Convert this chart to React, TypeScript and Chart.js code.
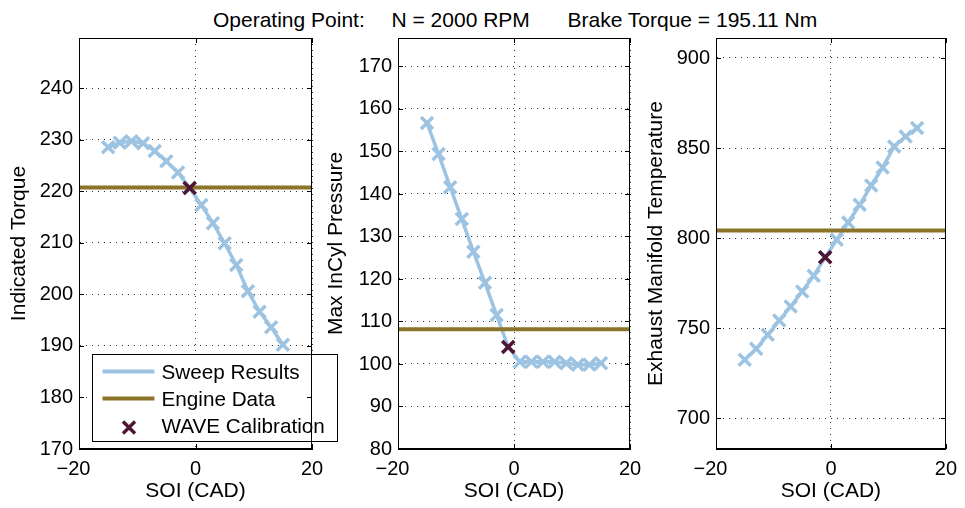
import React, { useEffect, useRef } from 'react';
import { Chart, registerables } from 'chart.js';

Chart.register(...registerables);
Chart.defaults.font.family = "'Liberation Sans', Arial, sans-serif";

// ---------- data ----------
const soi = [-15, -13, -11, -9, -7, -5, -3, -1, 1, 3, 5, 7, 9, 11, 13, 15];
const indicatedTorque = [228.5, 229.4, 229.7, 229.3, 227.8, 225.8, 223.6, 220.6, 217.3, 213.8, 209.9, 205.7, 200.6, 196.6, 193.6, 190.2];
const maxInCylPressure = [156.7, 149.4, 141.6, 134.1, 126.4, 119.1, 111.5, 104.0, 100.5, 100.5, 100.5, 100.5, 100.2, 99.8, 99.8, 100.2];
const exhaustManifoldTemp = [732.4, 738.5, 746.3, 754.2, 762.0, 770.4, 779.1, 789.3, 799.1, 808.7, 818.5, 829.2, 839.2, 850.9, 856.4, 861.1];

const engineTorque = 220.7;
const enginePressure = 108.2;
const engineExhaust = 804.2;

const calibSoi = -1;
const calibTorque = 220.6;
const calibPressure = 104.0;
const calibExhaust = 789.4;

const xLimits = [-20, 20];
const xTicks = [-20, 0, 20];
const yLimits1 = [170, 249.7];
const yTicks1 = [170, 180, 190, 200, 210, 220, 230, 240];
const yLimits2 = [80, 176.7];
const yTicks2 = [80, 90, 100, 110, 120, 130, 140, 150, 160, 170];
const yLimits3 = [682.9, 911.1];
const yTicks3 = [700, 750, 800, 850, 900];

const seriesNames = ['Sweep Results', 'Engine Data', 'WAVE Calibration'];
const titleParts = ['Operating Point:', 'N = 2000 RPM', 'Brake Torque = 195.11 Nm'];
const xLabel = 'SOI (CAD)';

// ---------- style ----------
const sweepColor = 'rgb(157,195,226)';
const engineColor = 'rgb(139,116,42)';
const calibColor = 'rgb(78,22,52)';
const gridColor = 'rgba(0,0,0,0.8)';
const FONT = "'Liberation Sans', Arial, sans-serif";

// MATLAB-like tick text (negative labels sit slightly left of their tick)
const fmtTick = (v: number) => (v < 0 ? '\u2212' + Math.abs(v) + '\u2007' : String(v));

const framePlugin = {
  id: 'frame',
  afterDraw(chart: any) {
    const { ctx, chartArea: a, scales } = chart;
    ctx.save();
    ctx.strokeStyle = '#000';
    ctx.lineWidth = 1;
    ctx.beginPath();
    const tl = 5;
    for (const t of scales.y.ticks) {
      const py = Math.round(scales.y.getPixelForValue(t.value)) + 0.5;
      ctx.moveTo(a.left, py);
      ctx.lineTo(a.left + tl, py);
      ctx.moveTo(a.right, py);
      ctx.lineTo(a.right - tl, py);
    }
    for (const t of scales.x.ticks) {
      const px = Math.round(scales.x.getPixelForValue(t.value)) + 0.5;
      ctx.moveTo(px, a.bottom);
      ctx.lineTo(px, a.bottom - tl);
      ctx.moveTo(px, a.top);
      ctx.lineTo(px, a.top + tl);
    }
    ctx.stroke();
    ctx.strokeRect(Math.round(a.left) + 0.5, Math.round(a.top) + 0.5, Math.round(a.right - a.left) - 1, Math.round(a.bottom - a.top) - 1);
    ctx.restore();
  },
};

const legendPlugin = {
  id: 'matlabLegend',
  afterDatasetsDraw(chart: any) {
    const { ctx, chartArea: a } = chart;
    const bx = Math.round(a.left) + 13.5;
    const by = Math.round(a.bottom) - 94.5;
    const bw = 245;
    const bh = 87;
    ctx.save();
    ctx.fillStyle = '#fff';
    ctx.fillRect(bx, by, bw, bh);
    ctx.strokeStyle = '#000';
    ctx.lineWidth = 1;
    ctx.strokeRect(bx, by, bw, bh);
    ctx.font = `20.7px ${FONT}`;
    ctx.fillStyle = '#000';
    ctx.textBaseline = 'alphabetic';
    ctx.textAlign = 'left';
    const rowsY = [17, 44, 71];
    const baseOff = 7.5;
    ctx.strokeStyle = sweepColor;
    ctx.lineWidth = 4;
    ctx.beginPath();
    ctx.moveTo(bx + 10, by + rowsY[0]);
    ctx.lineTo(bx + 62, by + rowsY[0]);
    ctx.stroke();
    ctx.strokeStyle = engineColor;
    ctx.lineWidth = 4;
    ctx.beginPath();
    ctx.moveTo(bx + 10, by + rowsY[1]);
    ctx.lineTo(bx + 62, by + rowsY[1]);
    ctx.stroke();
    const cx = bx + 36.5;
    const cy = by + rowsY[2] + 2;
    const r = 6;
    ctx.strokeStyle = calibColor;
    ctx.lineWidth = 3.5;
    ctx.beginPath();
    ctx.moveTo(cx - r, cy - r);
    ctx.lineTo(cx + r, cy + r);
    ctx.moveTo(cx + r, cy - r);
    ctx.lineTo(cx - r, cy + r);
    ctx.stroke();
    seriesNames.forEach((name, i) => {
      ctx.fillText(name, bx + 69, by + rowsY[i] + baseOff);
    });
    ctx.restore();
  },
};

type PanelCfg = {
  left: number;
  width: number;
  padLeft: number;
  padRight: number;
  yAxisWidth: number;
  yLabel: string;
  yLimits: number[];
  yTicks: number[];
  sweep: number[];
  engine: number;
  calib: number;
  legend: boolean;
  z: number;
};

function Panel(p: PanelCfg) {
  const ref = useRef<HTMLCanvasElement>(null);
  useEffect(() => {
    const sweepPts = soi.map((x, i) => ({ x, y: p.sweep[i] }));
    const enginePts = xLimits.map((x) => ({ x, y: p.engine }));
    const chart = new Chart(ref.current as HTMLCanvasElement, {
      type: 'scatter',
      data: {
        datasets: [
          {
            label: seriesNames[0],
            data: sweepPts,
            showLine: true,
            borderColor: sweepColor,
            backgroundColor: sweepColor,
            borderWidth: 3.5,
            pointStyle: 'crossRot',
            pointRadius: 8.5,
            pointBorderWidth: 3.5,
            pointBorderColor: sweepColor,
            order: 3,
          },
          {
            label: seriesNames[1],
            data: enginePts,
            showLine: true,
            borderColor: engineColor,
            borderWidth: 4,
            pointRadius: 0,
            order: 2,
          },
          {
            label: seriesNames[2],
            data: [{ x: calibSoi, y: p.calib }],
            showLine: false,
            pointStyle: 'crossRot',
            pointRadius: 8.5,
            pointBorderWidth: 3.5,
            pointBorderColor: calibColor,
            backgroundColor: calibColor,
            order: 1,
          },
        ],
      } as any,
      options: {
        responsive: false,
        animation: false,
        layout: { padding: { left: p.padLeft, right: p.padRight, top: 38, bottom: 4 } },
        plugins: {
          legend: { display: false },
          tooltip: { enabled: false },
          title: { display: false },
        },
        scales: {
          x: {
            type: 'linear',
            min: xLimits[0],
            max: xLimits[1],
            afterBuildTicks: (ax: any) => {
              ax.ticks = xTicks.map((v) => ({ value: v }));
            },
            afterFit: (s: any) => {
              s.height = 55;
            },
            grid: { color: gridColor, lineWidth: 1, drawTicks: false },
            border: { display: true, color: '#000', width: 1, dash: [1, 5] },
            ticks: {
              color: '#000',
              font: { size: 20 },
              padding: 8,
              maxRotation: 0,
              autoSkip: false,
              callback: (v: any) => fmtTick(Number(v)),
            },
            title: {
              display: true,
              text: xLabel,
              color: '#000',
              font: { size: 21, lineHeight: 1.2 },
              padding: 0,
            },
          },
          y: {
            type: 'linear',
            min: p.yLimits[0],
            max: p.yLimits[1],
            afterBuildTicks: (ax: any) => {
              ax.ticks = p.yTicks.map((v) => ({ value: v }));
            },
            afterFit: (s: any) => {
              s.width = p.yAxisWidth;
            },
            grid: { color: gridColor, lineWidth: 1, drawTicks: false },
            border: { display: true, color: '#000', width: 1, dash: [1, 5] },
            ticks: {
              color: '#000',
              font: { size: 20 },
              padding: 6,
              autoSkip: false,
              callback: (v: any) => fmtTick(Number(v)),
            },
            title: {
              display: true,
              text: p.yLabel,
              color: '#000',
              font: { size: 21, lineHeight: 1.2 },
              padding: 0,
            },
          },
        },
      } as any,
      plugins: p.legend ? [legendPlugin, framePlugin] : [framePlugin],
    });
    return () => chart.destroy();
  }, []);
  return (
    <canvas
      ref={ref}
      width={p.width}
      height={508}
      style={{ position: 'absolute', left: p.left, top: 0, width: p.width, height: 508, zIndex: p.z }}
    />
  );
}

export default function App() {
  const titleLefts = [213, 391.5, 567.5];
  return (
    <div style={{ position: 'absolute', left: 0, top: 0, width: 965, height: 508, background: '#fff', overflow: 'hidden' }}>
      {titleParts.map((t, i) => (
        <span
          key={i}
          style={{
            position: 'absolute',
            left: titleLefts[i],
            top: 8,
            fontFamily: FONT,
            fontSize: 21,
            lineHeight: '24px',
            color: '#000',
            whiteSpace: 'pre',
          }}
        >
          {t}
        </span>
      ))}
      <Panel left={318} width={335} padLeft={6} padRight={23} yAxisWidth={74} yLabel="Max InCyl Pressure"
        yLimits={yLimits2} yTicks={yTicks2} sweep={maxInCylPressure} engine={enginePressure} calib={calibPressure} legend={false} z={1} />
      <Panel left={637} width={328} padLeft={7} padRight={16} yAxisWidth={72} yLabel="Exhaust Manifold Temperature"
        yLimits={yLimits3} yTicks={yTicks3} sweep={exhaustManifoldTemp} engine={engineExhaust} calib={calibExhaust} legend={false} z={2} />
      <Panel left={0} width={340} padLeft={7} padRight={28} yAxisWidth={72} yLabel="Indicated Torque"
        yLimits={yLimits1} yTicks={yTicks1} sweep={indicatedTorque} engine={engineTorque} calib={calibTorque} legend={true} z={3} />
    </div>
  );
}
